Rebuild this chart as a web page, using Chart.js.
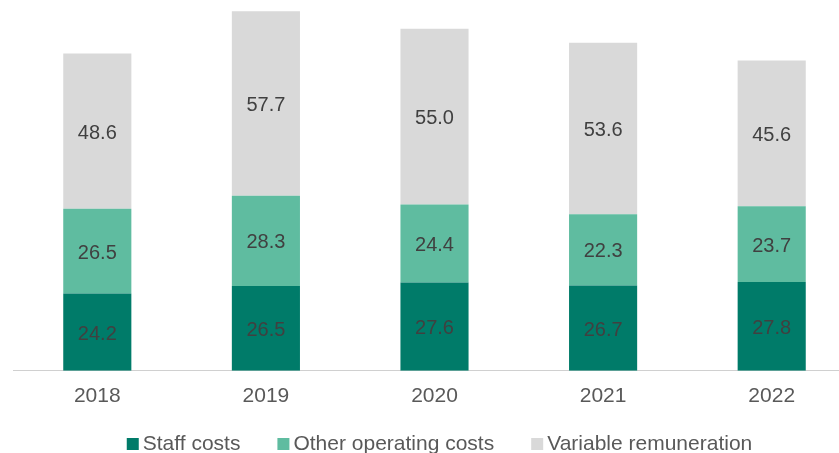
<!DOCTYPE html>
<html>
<head>
<meta charset="utf-8">
<script src="https://cdn.jsdelivr.net/npm/chart.js@4"></script>
<style>
    html, body { margin: 0; padding: 0; background: #fff; overflow: hidden; }
    #wrap { position: absolute; left: 0; top: 0; width: 856px; height: 453px; }
</style>
</head>
<body>
<div id="wrap"><canvas id="costChart"></canvas></div>
<script>
// Cost breakdown per year
const years = ['2018', '2019', '2020', '2021', '2022'];
const staffCosts = [24.2, 26.5, 27.6, 26.7, 27.8];
const otherOperating = [26.5, 28.3, 24.4, 22.3, 23.7];
const variableRemuneration = [48.6, 57.7, 55.0, 53.6, 45.6];

const FONT = '"Liberation Sans", Arial, sans-serif';

// Write each value in the middle of its segment
const barLabels = {
    id: 'barLabels',
    afterDatasetsDraw(chart) {
        const ctx = chart.ctx;
        ctx.save();
        ctx.font = '20px ' + FONT;
        ctx.fillStyle = '#404040';
        ctx.textAlign = 'center';
        ctx.textBaseline = 'middle';
        chart.data.datasets.forEach((ds, i) => {
            chart.getDatasetMeta(i).data.forEach((bar, j) => {
                const y = (bar.y + bar.base) / 2;
                ctx.fillText(ds.data[j].toFixed(1), bar.x, y + 2);
            });
        });
        ctx.restore();
    }
};

// Legend along the bottom: small square, tight gap, then the name
const bottomLegend = {
    id: 'bottomLegend',
    afterDraw(chart) {
        const ctx = chart.ctx;
        const box = 12, gap = 4, spacing = 37;
        ctx.save();
        ctx.font = '21px ' + FONT;
        ctx.textBaseline = 'middle';
        const items = chart.data.datasets.map(ds => ({
            text: ds.label,
            color: ds.backgroundColor,
            w: box + gap + ctx.measureText(ds.label).width
        }));
        const total = items.reduce((s, it) => s + it.w, 0) + spacing * (items.length - 1);
        let x = 439.5 - total / 2;
        const y = 444;
        items.forEach(it => {
            ctx.fillStyle = it.color;
            ctx.fillRect(x, y - box / 2, box, box);
            ctx.fillStyle = '#595959';
            ctx.fillText(it.text, x + box + gap, y);
            x += it.w + spacing;
        });
        ctx.restore();
    }
};

Chart.defaults.font.family = FONT;
Chart.defaults.color = '#595959';

new Chart(document.getElementById('costChart'), {
    type: 'bar',
    data: {
        labels: years,
        datasets: [
            { label: 'Staff costs', data: staffCosts, backgroundColor: '#007B69' },
            { label: 'Other operating costs', data: otherOperating, backgroundColor: '#5FBCA0' },
            { label: 'Variable remuneration', data: variableRemuneration, backgroundColor: '#D9D9D9' }
        ]
    },
    options: {
        responsive: true,
        maintainAspectRatio: false,
        animation: false,
        layout: { padding: { left: 13, right: 0, top: 0, bottom: 31 } },
        datasets: { bar: { categoryPercentage: 1, barPercentage: 0.404 } },
        plugins: {
            legend: { display: false },
            tooltip: { enabled: false }
        },
        scales: {
            x: {
                stacked: true,
                grid: { display: false, drawTicks: false },
                border: { display: true, color: '#D0D0D0', width: 1 },
                ticks: { padding: 13, font: { size: 21 }, color: '#595959' }
            },
            y: {
                stacked: true,
                display: false,
                min: 0,
                max: 116
            }
        }
    },
    plugins: [barLabels, bottomLegend]
});
</script>
</body>
</html>
